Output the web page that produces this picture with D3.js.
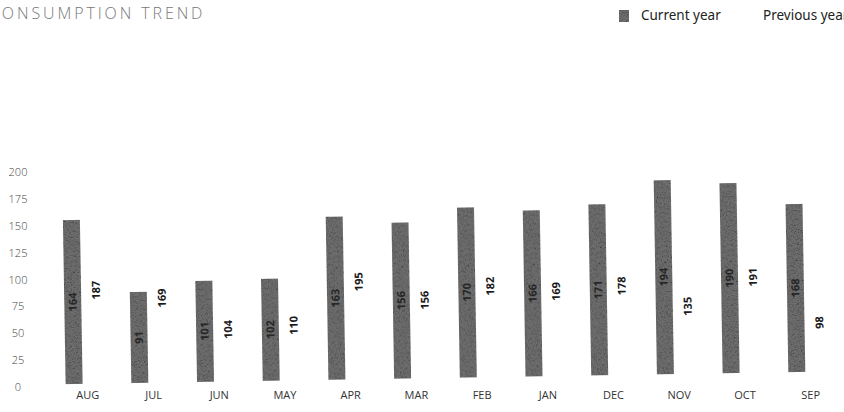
<!DOCTYPE html>
<html lang="en">
  <head>
    <meta charset="UTF-8" />
    <title>Consumption trend</title>
    <script src="https://d3js.org/d3.v7.min.js"></script>
    <style>
      body { margin: 0; background: #fff; font-family: "Open Sans", "Noto Sans", sans-serif; }
      svg { display: block; }
    </style>
  </head>
  <body>
    <div id="chart"></div>
  <script>
    // data
    const months = ["AUG", "JUL", "JUN", "MAY", "APR", "MAR", "FEB", "JAN", "DEC", "NOV", "OCT", "SEP"];
    const currentYear = [164, 91, 101, 102, 163, 156, 170, 166, 171, 194, 190, 168];
    const previousYear = [187, 169, 104, 110, 195, 156, 182, 169, 178, 135, 191, 98];
    const yTicks = [0, 25, 50, 75, 100, 125, 150, 175, 200];
    const seriesNames = ["Current year", "Previous year"];

    const width = 844, height = 412;

    const svg = d3.select("#chart").append("svg")
      .attr("width", width)
      .attr("height", height);

    // grainy fill, like the photocopy
    const defs = svg.append("defs");
    const f = defs.append("filter").attr("id", "grain")
      .attr("x", 0).attr("y", 0).attr("width", "100%").attr("height", "100%");
    f.append("feTurbulence").attr("type", "fractalNoise").attr("baseFrequency", 0.8)
      .attr("numOctaves", 2).attr("seed", 4).attr("result", "noise");
    f.append("feColorMatrix").attr("in", "noise").attr("type", "saturate").attr("values", 0).attr("result", "gray");
    const ct = f.append("feComponentTransfer").attr("in", "gray").attr("result", "contrast");
    ["feFuncR", "feFuncG", "feFuncB"].forEach(n => ct.append(n).attr("type", "linear").attr("slope", 5).attr("intercept", -1.7));
    f.append("feBlend").attr("in", "SourceGraphic").attr("in2", "contrast").attr("mode", "multiply").attr("result", "blend");
    f.append("feComposite").attr("in", "blend").attr("in2", "SourceGraphic").attr("operator", "in");

    // scales
    const x0 = d3.scaleBand().domain(months).range([53, 841.5]).paddingInner(0.384).paddingOuter(0.192);
    const x1 = d3.scaleBand().domain(["cur", "prev"]).range([0, x0.bandwidth()]).paddingInner(0.277);
    const yBar = d3.scaleLinear().domain([0, 200]).range([384, 184]);
    const yAxis = d3.scaleLinear().domain([0, 200]).range([387, 172]);

    // title (cut at the left edge like the scan)
    svg.append("text")
      .attr("x", -11).attr("y", 19)
      .attr("font-size", 16).attr("letter-spacing", 2.9)
      .attr("font-weight", 300)
      .attr("fill", "#777")
      .text("CONSUMPTION TREND");

    // legend
    const legend = svg.append("g");
    legend.append("rect").attr("x", 619).attr("y", 10).attr("width", 10).attr("height", 12)
      .attr("fill", "#6e6e6e").attr("filter", "url(#grain)");
    legend.append("text").attr("x", 641).attr("y", 20).attr("font-size", 13.5)
      .attr("font-family", "'Noto Sans', sans-serif")
      .attr("fill", "#222").text(seriesNames[0]);
    legend.append("rect").attr("x", 750).attr("y", 10).attr("width", 10).attr("height", 12).attr("fill", "#fff");
    legend.append("text").attr("x", 763).attr("y", 20).attr("font-size", 13.5)
      .attr("font-family", "'Noto Sans', sans-serif")
      .attr("fill", "#222").text(seriesNames[1]);

    // y axis labels only
    const ax = svg.append("g")
      .attr("transform", "translate(28,0)")
      .call(d3.axisLeft(yAxis).tickValues(yTicks).tickSize(0).tickPadding(0));
    ax.select(".domain").remove();
    ax.selectAll("text")
      .attr("font-family", "'Open Sans', sans-serif")
      .attr("font-size", 11)
      .attr("font-weight", 300)
      .attr("fill", "#444")
      .attr("text-anchor", "middle")
      .attr("dx", -10);

    // month labels
    const xa = svg.append("g")
      .attr("transform", "translate(0,391)")
      .call(d3.axisBottom(x0).tickSize(0).tickPadding(0));
    xa.select(".domain").remove();
    xa.selectAll("text")
      .attr("font-family", "'Open Sans', sans-serif")
      .attr("font-size", 11)
      .attr("fill", "#333")
      .attr("dx", 2);

    // plot area is slightly tilted in the scan
    const plot = svg.append("g").attr("transform", "rotate(-0.95,74,384)");

    const groups = plot.selectAll("g.month")
      .data(months)
      .join("g")
      .attr("class", "month")
      .attr("transform", d => "translate(" + x0(d) + ",0)");

    groups.append("rect")
      .attr("x", x1("cur"))
      .attr("width", x1.bandwidth())
      .attr("y", (d, i) => yBar(currentYear[i]))
      .attr("height", (d, i) => yBar(0) - yBar(currentYear[i]))
      .attr("fill", "#6e6e6e")
      .attr("filter", "url(#grain)");

    groups.append("rect")
      .attr("x", x1("prev"))
      .attr("width", x1.bandwidth())
      .attr("y", (d, i) => yBar(previousYear[i]))
      .attr("height", (d, i) => yBar(0) - yBar(previousYear[i]))
      .attr("fill", "#fff");

    function valueLabel(key, values, color) {
      groups.append("text")
        .attr("transform", (d, i) => {
          const cx = x1(key) + x1.bandwidth() / 2;
          const cy = (yBar(values[i]) + yBar(0)) / 2;
          return "translate(" + cx + "," + cy + ") rotate(-90)";
        })
        .attr("text-anchor", "middle")
        .attr("dy", "0.35em")
        .attr("font-size", 11)
        .attr("font-weight", "bold")
        .attr("fill", color)
        .text((d, i) => values[i]);
    }

    valueLabel("cur", currentYear, "#262626");
    valueLabel("prev", previousYear, "#1a1a1a");
  </script>
  </body>
</html>
